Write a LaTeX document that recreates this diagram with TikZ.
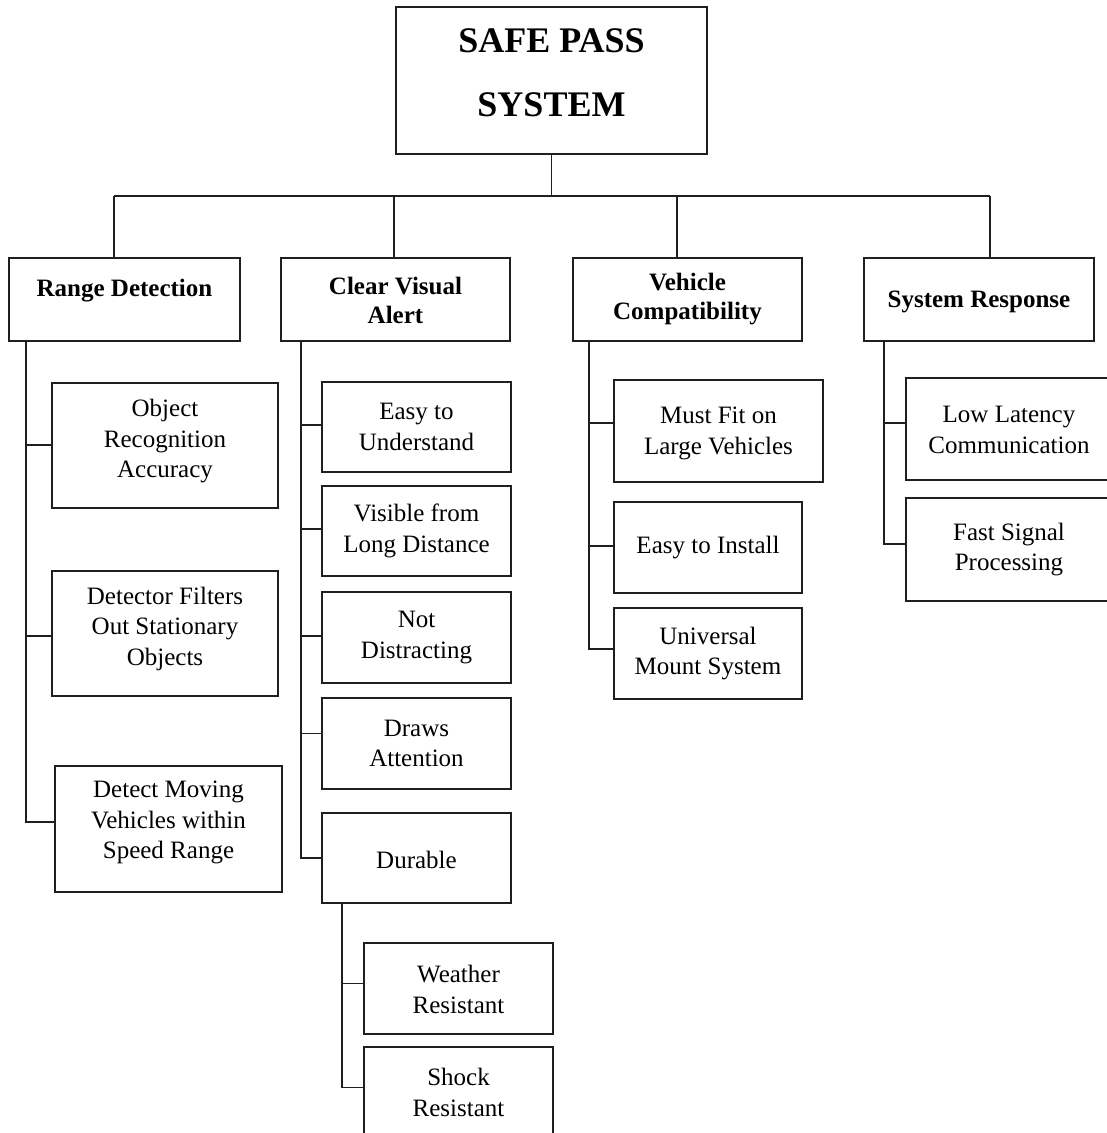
\documentclass[tikz,border=0pt]{standalone}
\usepackage{fontspec}
\setmainfont{Liberation Serif}
\begin{document}
\begin{tikzpicture}[x=1bp,y=-1bp,
  bx/.style={draw=black!88, line width=1.5bp, inner sep=0pt},
  txt/.style={font=\fontsize{25bp}{30.5bp}\selectfont, align=center, inner sep=0pt, text=black},
  hd/.style={font=\fontsize{25bp}{29bp}\selectfont\bfseries, align=center, inner sep=0pt, text=black},
  ttl/.style={font=\fontsize{36bp}{64bp}\selectfont\bfseries, align=center, inner sep=0pt, text=black},
  ln/.style={draw=black!88, line width=1.6bp}]
\fill[white] (0,0) rectangle (1107,1133);
\useasboundingbox (0,0) rectangle (1107,1133);
\clip (0,0) rectangle (1107,1133);

% root
\node[bx, minimum width=311bp, minimum height=147bp,
  label={[ttl,yshift=8bp]center:{SAFE PASS\\SYSTEM}}] (root) at (551.5,80.5) {};

% headers
\node[bx, minimum width=231bp, minimum height=83bp,
  label={[hd,yshift=8.5bp]center:{Range Detection}}] (rd) at (124.5,299.5) {};
\node[bx, minimum width=229bp, minimum height=83bp,
  label={[hd,yshift=-1bp]center:{Clear Visual\\Alert}}] (cv) at (395.5,299.5) {};
\node[bx, minimum width=229bp, minimum height=83bp,
  label={[hd]center:{Vehicle\\Compatibility}}] (vc) at (687.5,299.5) {};
\node[bx, minimum width=230bp, minimum height=83bp,
  label={[hd,yshift=-2.5bp]center:{System Response}}] (sr) at (979,299.5) {};

% Range Detection children
\node[bx, minimum width=226bp, minimum height=125bp,
  label={[txt,yshift=4bp]center:{Object\\Recognition\\Accuracy}}] (or) at (165,445.5) {};
\node[bx, minimum width=226bp, minimum height=125bp,
  label={[txt,yshift=5bp]center:{Detector Filters\\Out Stationary\\Objects}}] (df) at (165,633.5) {};
\node[bx, minimum width=227bp, minimum height=126bp,
  label={[txt,yshift=6.5bp]center:{Detect Moving\\Vehicles within\\Speed Range}}] (dm) at (168.5,829) {};

% Clear Visual Alert children
\node[bx, minimum width=189bp, minimum height=90bp,
  label={[txt]center:{Easy to\\Understand}}] (eu) at (416.5,427) {};
\node[bx, minimum width=189bp, minimum height=90bp,
  label={[txt]center:{Visible from\\Long Distance}}] (vl) at (416.5,531) {};
\node[bx, minimum width=189bp, minimum height=91bp,
  label={[txt]center:{Not\\Distracting}}] (nd) at (416.5,637.5) {};
\node[bx, minimum width=189bp, minimum height=91bp,
  label={[txt]center:{Draws\\Attention}}] (da) at (416.5,743.5) {};
\node[bx, minimum width=189bp, minimum height=90bp,
  label={[txt,yshift=-2bp]center:{Durable}}] (du) at (416.5,858) {};

% Durable children
\node[bx, minimum width=189bp, minimum height=91bp,
  label={[txt,yshift=-1bp]center:{Weather\\Resistant}}] (wr) at (458.5,988.5) {};
\node[bx, minimum width=189bp, minimum height=91bp,
  label={[txt]center:{Shock\\Resistant}}] (sh) at (458.5,1092.5) {};

% Vehicle Compatibility children
\node[bx, minimum width=209bp, minimum height=102bp,
  label={[txt,yshift=-2.5bp]center:{Must Fit on\\Large Vehicles}}] (mf) at (718.5,431) {};
\node[bx, minimum width=188bp, minimum height=91bp,
  label={[txt]center:{Easy to Install}}] (ei) at (708,547.5) {};
\node[bx, minimum width=188bp, minimum height=91bp,
  label={[txt]center:{Universal\\Mount System}}] (um) at (708,653.5) {};

% System Response children
\node[bx, minimum width=206bp, minimum height=102bp,
  label={[txt,yshift=-1bp]center:{Low Latency\\Communication}}] (ll) at (1009,429) {};
\node[bx, minimum width=206bp, minimum height=103bp,
  label={[txt]center:{Fast Signal\\Processing}}] (fs) at (1009,549.5) {};

% bus
\coordinate (j0) at (551.5,196);
\coordinate (d1) at (114,196);
\coordinate (d2) at (394,196);
\coordinate (d3) at (677,196);
\coordinate (d4) at (990,196);
\draw[ln] (root.south) -- (j0);
\draw[ln] (d1) -- (d4);
\draw[ln] (d1) -- (d1 |- rd.north);
\draw[ln] (d2) -- (d2 |- cv.north);
\draw[ln] (d3) -- (d3 |- vc.north);
\draw[ln] (d4) -- (d4 |- sr.north);

% Range Detection
\draw[ln] ([xshift=18bp]rd.south west) |- ([yshift=0.5bp]or.west);
\draw[ln] ([xshift=18bp]rd.south west) |- ([yshift=-2.5bp]df.west);
\draw[ln] ([xshift=18bp]rd.south west) |- ([yshift=7bp]dm.west);

% Clear Visual Alert
\draw[ln] ([xshift=21bp]cv.south west) |- ([yshift=2bp]eu.west);
\draw[ln] ([xshift=21bp]cv.south west) |- ([yshift=2bp]vl.west);
\draw[ln] ([xshift=21bp]cv.south west) |- ([yshift=1.5bp]nd.west);
\draw[ln] ([xshift=21bp]cv.south west) |- ([yshift=10bp]da.west);
\draw[ln] ([xshift=21bp]cv.south west) |- (du.west);

% Durable
\draw[ln] ([xshift=21bp]du.south west) |- ([yshift=5bp]wr.west);
\draw[ln] ([xshift=21bp]du.south west) |- ([yshift=5bp]sh.west);

% Vehicle Compatibility
\draw[ln] ([xshift=17bp]vc.south west) |- ([yshift=8bp]mf.west);
\draw[ln] ([xshift=17bp]vc.south west) |- ([yshift=1.5bp]ei.west);
\draw[ln] ([xshift=17bp]vc.south west) |- ([yshift=4.5bp]um.west);

% System Response
\draw[ln] ([xshift=21bp]sr.south west) |- ([yshift=6bp]ll.west);
\draw[ln] ([xshift=21bp]sr.south west) |- ([yshift=5.5bp]fs.west);
\end{tikzpicture}
\end{document}
